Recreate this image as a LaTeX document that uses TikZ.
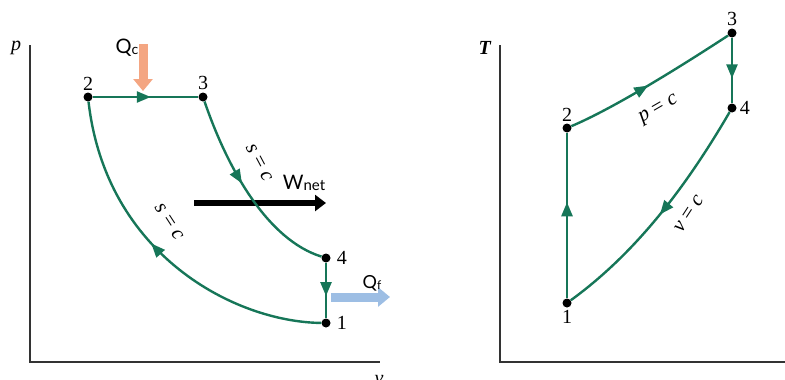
\documentclass[tikz,border=0pt]{standalone}
\usepackage{fontspec}
\setmainfont{Liberation Serif}
\newfontfamily\lblfont{Lato}
\usetikzlibrary{arrows.meta,decorations.markings}
\definecolor{cyc}{RGB}{22,118,88}
\definecolor{heatin}{RGB}{244,166,130}
\definecolor{heatout}{RGB}{157,190,228}

\begin{document}
\begin{tikzpicture}[
  x=1pt, y=-1pt,
  font=\fontsize{20}{24}\selectfont,
  axis/.style={draw=black!80, line width=1.5pt},
  dot/.style={circle, fill=black, inner sep=0pt, minimum size=9pt},
  num/.style={inner sep=1pt},
  proc/.style={draw=cyc, line width=2.4pt},
  midarr/.style={postaction={decorate, decoration={markings,
      mark=at position #1 with {\arrow{Triangle[length=14pt,width=11pt]}}}}},
  flow/.style={line width=#1},
  cst/.style={inner sep=0pt, font=\fontsize{21}{24}\selectfont}
]
\useasboundingbox (0,0) rectangle (785,380);
% ---------------- p-v diagram ----------------
\coordinate (pax) at (30,45);
\coordinate (org1) at (30,362);
\coordinate (vax) at (380,362);
\draw[axis] (pax) -- (org1) -- (vax);
\node[num] at (16,48) {\textit{p}};
\node[num] at (379,380) {\textit{v}};
\node[dot] (a2) at (88,97) {};
\node[dot] (a3) at (203,97) {};
\node[dot] (a4) at (326,258) {};
\node[dot] (a1) at (326,323) {};
\node[num, above=1pt] at (a2.north) {2};
\node[num, above=1pt] at (a3.north) {3};
\node[num, right=5pt] at (a4.east) {4};
\node[num, right=5pt] at (a1.east) {1};
% heat in / out, net work
\coordinate (qcs) at (143,44);
\coordinate (qce) at (143,91);
\coordinate (qfs) at (331,297);
\coordinate (qfe) at (390,297);
\coordinate (ws) at (194,203);
\coordinate (we) at (326,203);
\draw[flow=9pt, heatin, -{Triangle[length=12pt,width=19pt]}] (qcs) -- (qce);
\draw[flow=9pt, heatout, -{Triangle[length=12pt,width=19pt]}] (qfs) -- (qfe);
\draw[flow=6pt, black, -{Triangle[length=11pt,width=16pt]}] (ws) -- (we);
\node[num] at (127,48) {\lblfont Q\raisebox{-1pt}{\fontsize{14}{14}\selectfont c}};
\node[num] at (372,283) {\lblfont\fontsize{18}{20}\selectfont Q\raisebox{-1pt}{\fontsize{12}{12}\selectfont f}};
\node[num] at (304,183) {\lblfont W\raisebox{-1pt}{\fontsize{15}{15}\selectfont net}};
% cycle
\draw[proc, midarr=0.55] (a2) -- (a3);
\draw[proc, midarr=0.45] (a3) .. controls (228,170) and (268,240) .. (a4);
\draw[proc, midarr=0.6] (a4) -- (a1);
\draw[proc, midarr=0.55] (a1) .. controls (235,322) and (106,255) .. (a2);
\node[cst, rotate=-62] at (259,163) {\textit{s} = \textit{c}};
\node[cst, rotate=-57] at (169,222) {\textit{s} = \textit{c}};
% ---------------- T-s diagram ----------------
\coordinate (tax) at (500,45);
\coordinate (org2) at (500,362);
\coordinate (sax) at (785,362);
\draw[axis] (tax) -- (org2) -- (sax);
\node[num] at (485,48) {\textbf{\textit{T}}};
\node[dot] (b1) at (567,303) {};
\node[dot] (b2) at (567,128) {};
\node[dot] (b3) at (732,33) {};
\node[dot] (b4) at (732,108) {};
\node[num, below=1pt] at (b1.south) {1};
\node[num, above=1pt] at (b2.north) {2};
\node[num, above=1pt] at (b3.north) {3};
\node[num, right=2pt] at (b4.east) {4};
\draw[proc, midarr=0.58] (b1) -- (b2);
\draw[proc, midarr=0.48] (b2) .. controls (605,112) and (660,80) .. (b3);
\draw[proc, midarr=0.62] (b3) -- (b4);
\draw[proc, midarr=0.5] (b4) .. controls (690,180) and (640,250) .. (b1);
\node[cst, rotate=30] at (659,110) {\textit{p} = \textit{c}};
\node[cst, rotate=57] at (689,214) {\textit{v} = \textit{c}};
\end{tikzpicture}
\end{document}
